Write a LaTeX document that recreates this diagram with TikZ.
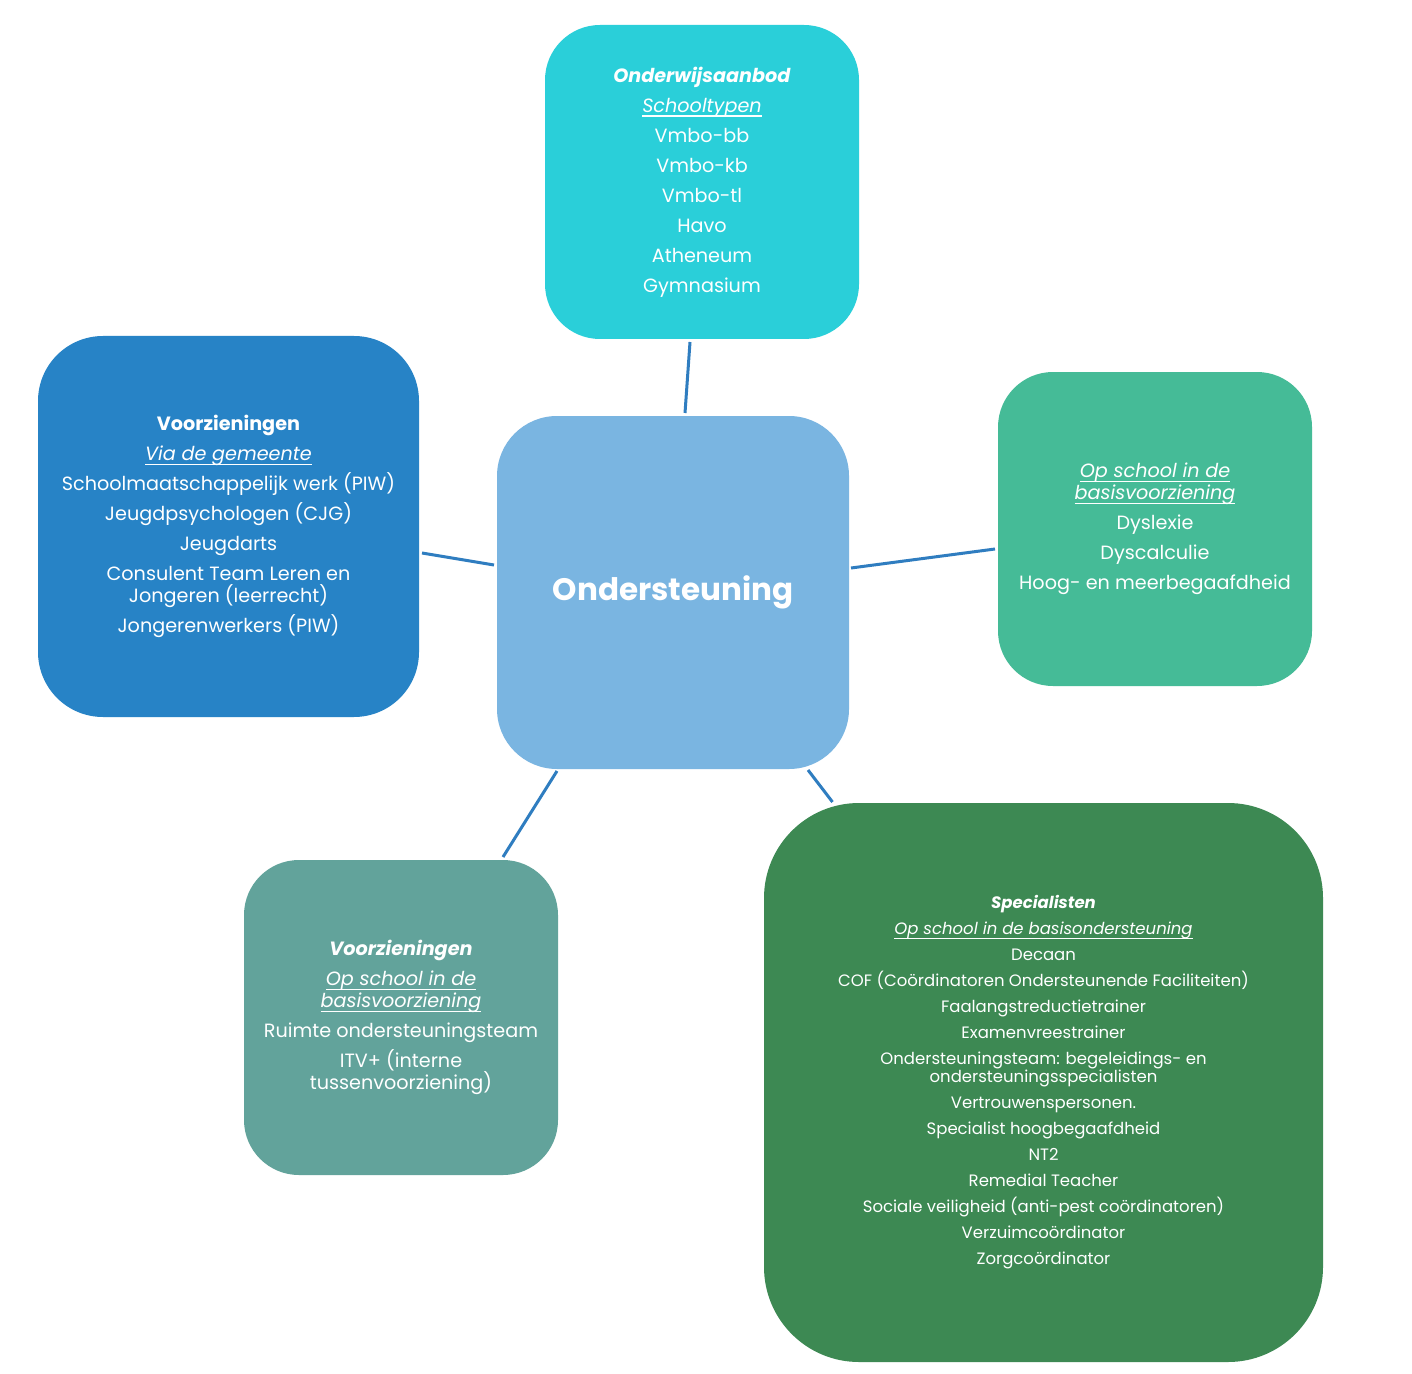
\documentclass[tikz,border=0pt]{standalone}
\usepackage{fontspec}
\setmainfont{Poppins}
\usetikzlibrary{calc}
\definecolor{cTop}{HTML}{2ACFD9}
\definecolor{cLeft}{HTML}{2783C6}
\definecolor{cCtr}{HTML}{7AB5E1}
\definecolor{cRight}{HTML}{45BB97}
\definecolor{cBL}{HTML}{62A39B}
\definecolor{cBR}{HTML}{3D8953}
\definecolor{cLine}{HTML}{2F7DC0}
\newcommand\myul[1]{\setbox0\hbox{#1}\rlap{\rule[-2.2pt]{\wd0}{0.6pt}}\box0}
\newcommand\tightls{\lineskiplimit=-20pt\relax\lineskip=0pt\relax}
\begin{document}
\begin{tikzpicture}[x=0.5pt,y=-0.5pt,
  box/.style={rounded corners=#1, inner sep=0pt, outer sep=0pt, align=center, text=white},
  mainfont/.style={font=\fontsize{9.6}{11}\selectfont\tightls},
  smallfont/.style={font=\fontsize{8.25}{9}\selectfont\tightls},
  conn/.style={draw=cLine, line width=1.5pt}]
\useasboundingbox (0,0) rectangle (1412,1374);
\fill[white] (0,0) rectangle (1412,1374);

\node[box=27.5pt, fill=cTop, minimum width=157pt, minimum height=157pt, mainfont] (top) at (702,182)
 {\textbf{\textit{Onderwijsaanbod}}\\[4pt]
  \myul{\textit{Schooltypen}}\\[4pt]
  Vmbo-bb\\[4pt] Vmbo-kb\\[4pt] Vmbo-tl\\[4pt] Havo\\[4pt] Atheneum\\[4pt] Gymnasium};

\node[box=32.5pt, fill=cLeft, minimum width=190.5pt, minimum height=190.5pt, mainfont] (left) at (228.5,526.5)
 {\textbf{Voorzieningen}\\[4pt]
  \myul{\textit{Via de gemeente}}\\[4pt]
  Schoolmaatschappelijk werk (PIW)\\[4pt]
  Jeugdpsychologen (CJG)\\[4pt]
  Jeugdarts\\[4pt]
  Consulent Team Leren en\\ Jongeren (leerrecht)\\[4pt]
  Jongerenwerkers (PIW)};

\node[box=30pt, fill=cCtr, minimum width=176pt, minimum height=176.5pt,
  font=\fontsize{15.5}{18}\selectfont\bfseries] (ctr) at (673,592.5) {\raisebox{-1pt}{Ondersteuning}};

\node[box=27.5pt, fill=cRight, minimum width=157pt, minimum height=157pt, mainfont] (right) at (1155,529)
 {\myul{\textit{Op school in de}}\\
  \myul{\textit{basisvoorziening}}\\[4pt]
  Dyslexie\\[4pt]
  Dyscalculie\\[4pt]
  Hoog- en meerbegaafdheid};

\node[box=27.5pt, fill=cBL, minimum width=157pt, minimum height=157.5pt, mainfont] (bl) at (401,1017.5)
 {\textbf{\textit{Voorzieningen}}\\[4pt]
  \myul{\textit{Op school in de}}\\
  \myul{\textit{basisvoorziening}}\\[4pt]
  Ruimte ondersteuningsteam\\[4pt]
  ITV+ (interne\\ tussenvoorziening)};

\node[box=47.5pt, fill=cBR, minimum width=279.5pt, minimum height=279.5pt, smallfont] (br) at (1043.5,1082.5)
 {\textbf{\textit{Specialisten}}\\[4pt]
  \myul{\textit{Op school in de basisondersteuning}}\\[4pt]
  Decaan\\[4pt]
  COF (Coördinatoren Ondersteunende Faciliteiten)\\[4pt]
  Faalangstreductietrainer\\[4pt]
  Examenvreestrainer\\[4pt]
  Ondersteuningsteam: begeleidings- en\\ ondersteuningsspecialisten\\[4pt]
  Vertrouwenspersonen.\\[4pt]
  Specialist hoogbegaafdheid\\[4pt]
  NT2\\[4pt]
  Remedial Teacher\\[4pt]
  Sociale veiligheid (anti-pest coördinatoren)\\[4pt]
  Verzuimcoördinator\\[4pt]
  Zorgcoördinator};

\draw[conn] ($(top.south)+(-12,3)$) -- ($(ctr.north)+(12,-3)$);
\draw[conn] ($(left.east)+(3,26.5)$) -- ($(ctr.west)+(-3,-27.5)$);
\draw[conn] ($(ctr.east)+(2,-24.5)$) -- ($(right.west)+(-3,20)$);
\draw[conn] ($(ctr.south)+(-116,2)$) -- ($(bl.north)+(102,-3)$);
\draw[conn] ($(ctr.south)+(135,1)$) -- ($(br.north)+(-211,-1)$);
\end{tikzpicture}
\end{document}
